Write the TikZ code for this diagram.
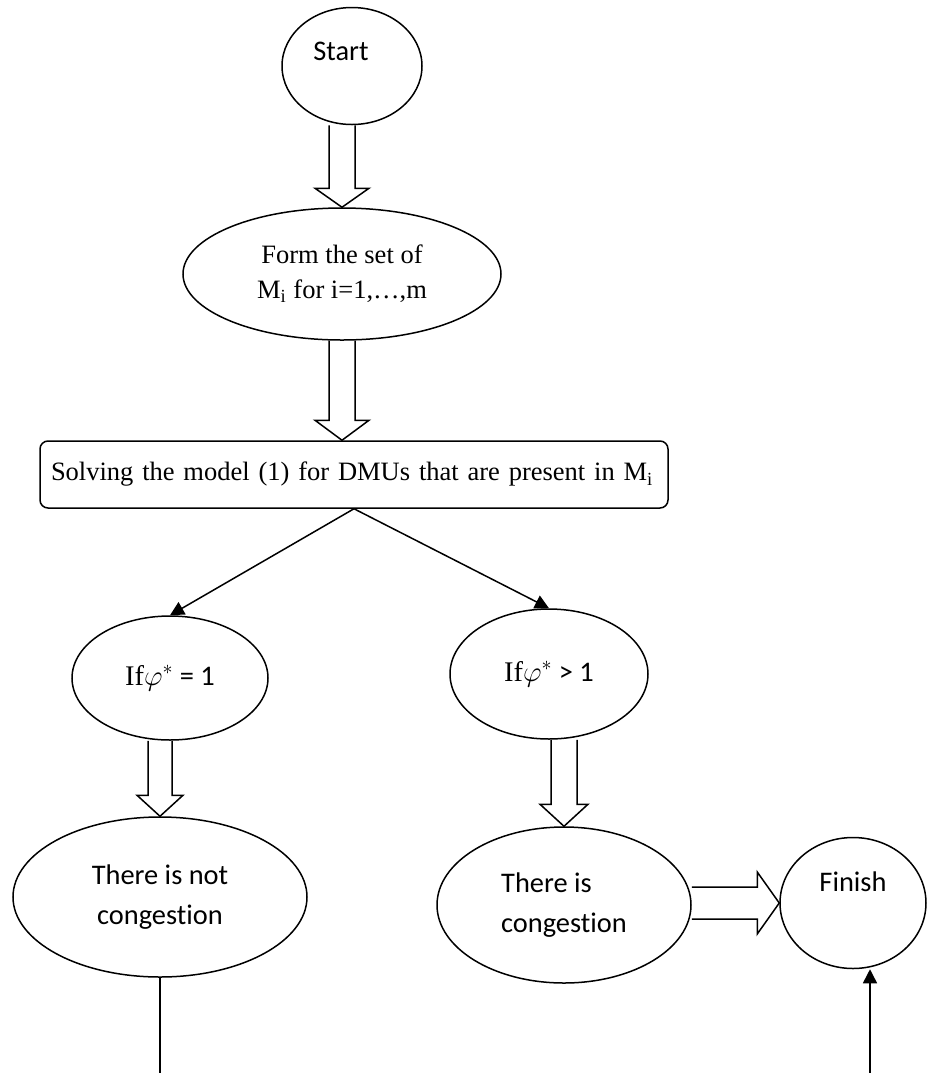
\documentclass[tikz,border=0pt]{standalone}
\usepackage{fontspec}
\setmainfont{Liberation Serif}
\newfontfamily\calibfont[Ligatures=NoCommon, Contextuals=NoAlternate]{Carlito}
\usepackage{tikz}
\usetikzlibrary{arrows.meta, shapes.geometric, calc}

% hollow block arrows: from, to, shaft half width, head half width, head length
\newcommand{\downblock}[5]{%
  \draw[blockarrow] let \p1=#1, \p2=#2 in
    (\x2-#3,\y1) -- (\x2-#3,\y2+#5) -- (\x2-#4,\y2+#5) -- (\x2,\y2)
    -- (\x2+#4,\y2+#5) -- (\x2+#3,\y2+#5) -- (\x2+#3,\y1);}
\newcommand{\rightblock}[5]{%
  \draw[blockarrow] let \p1=#1, \p2=#2 in
    (\x1,\y2+#3) -- (\x2-#5,\y2+#3) -- (\x2-#5,\y2+#4) -- (\x2,\y2)
    -- (\x2-#5,\y2-#4) -- (\x2-#5,\y2-#3) -- (\x1,\y2-#3);}

\begin{document}
\begin{tikzpicture}[x=0.5pt, y=-0.5pt,
        oval/.style={draw, ellipse, line width=0.75pt, inner sep=0pt, align=center},
        sanstext/.style={font=\calibfont\fontsize{14.2}{20}\selectfont},
        seriftext/.style={font=\fontsize{13.25}{17.5}\selectfont},
        blockarrow/.style={draw, line width=0.75pt, line join=miter},
        arrow/.style={-{Triangle[width=7pt,length=7pt]}, line width=0.75pt}
    ]
    \useasboundingbox (0,0) rectangle (927,1073);

    \node[oval, minimum width=70pt, minimum height=58.5pt,
        label={[sanstext, shift={(-5.5pt,7.5pt)}]center:Start}] (start) at (352,66) {};
    \node[oval, seriftext, minimum width=159pt, minimum height=66pt] (form) at (342,274)
        {Form the set of\\M\textsubscript{i} for i=1,…,m};
    \node[draw, rounded corners=4pt, line width=0.75pt, seriftext, minimum width=314pt,
        minimum height=33.5pt, text width=303pt, inner xsep=5.5pt, align=left] (box) at (354,474.5)
        {Solving the model (1) for DMUs that are present in M\textsubscript{i}};

    \node[oval, sanstext, minimum width=98pt, minimum height=62pt] (e1) at (170,678)
        {{\rmfamily If}$\varphi^{*}$ = 1};
    \node[oval, sanstext, minimum width=99pt, minimum height=65pt] (e2) at (549,674)
        {{\rmfamily If}$\varphi^{*}$ > 1};

    \node[oval, sanstext, minimum width=147pt, minimum height=80pt] (e3) at (160,897)
        {There is not\\congestion};
    \node[oval, sanstext, minimum width=127pt, minimum height=78pt, align=left] (e4) at (564,905)
        {There is\\congestion};
    \node[oval, minimum width=73pt, minimum height=65.5pt,
        label={[sanstext, shift={(0pt,10.5pt)}]center:Finish}] (finish) at (853,903) {};

    \coordinate (outl) at (160,1073);
    \coordinate (inr) at (870,1073);

    \downblock{(start.south)}{(form.north)}{6.5pt}{13.5pt}{9.5pt}
    \downblock{(form.south)}{(form.south |- box.north)}{6.5pt}{13.5pt}{10pt}
    \draw[arrow] (box.south) -- (e1.north);
    \draw[arrow] (box.south) -- (e2.north);
    \downblock{(e1.south)}{(e3.north)}{6pt}{11.5pt}{10.5pt}
    \downblock{(e2.south)}{(e4.north)}{6.5pt}{12pt}{11pt}
    \rightblock{(e4.east)}{(finish.west)}{8pt}{15.5pt}{11pt}
    \draw[line width=0.75pt] (e3.south) -- (outl);
    \draw[arrow] (inr) -- (inr |- finish.south);
\end{tikzpicture}
\end{document}
